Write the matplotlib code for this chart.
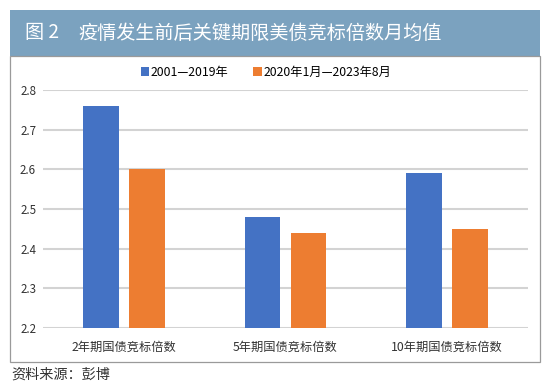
import numpy as np
import matplotlib
matplotlib.use("Agg")
import matplotlib.pyplot as plt
from matplotlib.patches import Rectangle

plt.rcParams['font.family'] = ['Noto Sans CJK SC', 'DejaVu Sans']

# data
categories = ["2年期国债竞标倍数", "5年期国债竞标倍数", "10年期国债竞标倍数"]
before = [2.76, 2.48, 2.59]
after = [2.60, 2.44, 2.45]
series_names = ["2001—2019年", "2020年1月—2023年8月"]
yticks = [2.2, 2.3, 2.4, 2.5, 2.6, 2.7, 2.8]

W, H = 550, 390
fig = plt.figure(figsize=(W / 100, H / 100), dpi=100)
fig.patch.set_facecolor("white")


def fx(px):
    return px / W


def fy(py):
    return 1 - py / H


# header bar and outer box
fig.add_artist(Rectangle((fx(10), fy(56)), fx(530), 46 / H, transform=fig.transFigure,
                         facecolor="#7ba2bf", edgecolor="none"))
fig.add_artist(Rectangle((fx(10), fy(362)), fx(530), 306 / H, transform=fig.transFigure,
                         facecolor="none", edgecolor="#9a9a9a", linewidth=0.9))
fig.text(fx(25), fy(33), "图 2", color="white", fontsize=13.8, va="center", ha="left")
fig.text(fx(78), fy(33), "疫情发生前后关键期限美债竞标倍数月均值", color="white",
         fontsize=13.8, va="center", ha="left")
fig.text(fx(11), fy(375), "资料来源：彭博", color="#333333", fontsize=10.2,
         va="center", ha="left")

ax = fig.add_axes([fx(43), fy(328), fx(485), 238 / H])
x = np.arange(len(categories))
w = 0.22
off = 0.142
b1 = ax.bar(x - off, before, width=w, color="#4472c4", label=series_names[0], zorder=3)
b2 = ax.bar(x + off, after, width=w, color="#ed7d31", label=series_names[1], zorder=3)

ax.set_xlim(-0.5, 2.5)
ax.set_ylim(2.2, 2.8)
ax.set_yticks(yticks)
ax.set_yticklabels([f"{v:.1f}" for v in yticks])
ax.set_xticks(x)
ax.set_xticklabels(categories, fontsize=8.8)
ax.tick_params(axis="y", length=0, labelsize=8.3, colors="#333333", pad=5)
ax.tick_params(axis="x", length=0, colors="#333333", pad=9)
ax.grid(axis="y", color="#d3d3d3", linewidth=1.5, zorder=0)
for s in ax.spines.values():
    s.set_visible(False)

fig.legend(handles=[b1, b2], loc="center", bbox_to_anchor=(fx(266), fy(72.5)),
           ncol=2, frameon=False, fontsize=8.8, handlelength=0.7, handleheight=0.7,
           handletextpad=0.15, columnspacing=2.0, borderpad=0)

fig.savefig("out.png", dpi=100)
